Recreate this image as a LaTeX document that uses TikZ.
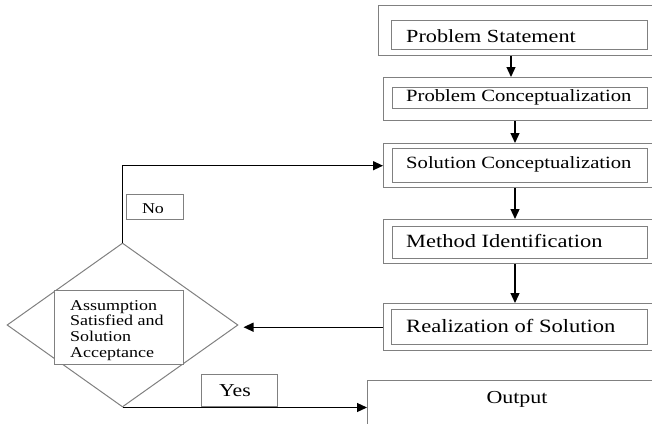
\documentclass[tikz,border=0pt]{standalone}
\usepackage{graphicx}
\usepackage{fontspec}
\newfontfamily\bodyfont{Liberation Serif}
\usetikzlibrary{shapes.geometric,arrows.meta,calc}
\definecolor{edgegray}{HTML}{808080}
% text is set a little wider than the font's natural width
\newcommand{\widetext}[1]{\scalebox{1.2}[1]{#1}}
\newcommand{\tsize}[1]{\bodyfont\fontsize{#1}{#1}\selectfont}
\tikzset{
  x=1pt, y=-1pt,
  outerbox/.style={draw=edgegray, line width=1.4pt, fill=white, inner sep=0pt, anchor=north west},
  innerbox/.style={draw=edgegray, line width=1.4pt, fill=white, inner sep=0pt, anchor=north west},
  boxtext/.style={inner sep=0pt, anchor=base west, text=black},
  flow/.style={draw=black, line width=1.3pt, -{Triangle[length=10pt,width=9pt]}},
  tagbox/.style={draw=edgegray, line width=1.2pt, fill=white, inner sep=0pt, anchor=north west},
}
\begin{document}
\begin{tikzpicture}
\useasboundingbox (0,0) rectangle (652,423);
\clip (0,0) rectangle (652,423);

% process boxes: outer frame with an inner frame holding the text
\node[outerbox, minimum width=287pt, minimum height=50pt] (o1) at (378,5) {};
\node[innerbox, minimum width=256pt, minimum height=29pt] (i1) at (391,20) {};
\node[boxtext, font=\tsize{18.5}] (t1) at (406,42) {\widetext{Problem Statement}};

\node[outerbox, minimum width=282pt, minimum height=43pt] (o2) at (383,77) {};
\node[innerbox, minimum width=255pt, minimum height=21pt] (i2) at (392,87) {};
\node[boxtext, font=\tsize{17.2}] (t2) at (406,101) {\widetext{Problem Conceptualization}};

\node[outerbox, minimum width=282pt, minimum height=44pt] (o3) at (383,143) {};
\node[innerbox, minimum width=255pt, minimum height=34pt] (i3) at (392,148) {};
\node[boxtext, font=\tsize{17.2}] (t3) at (406,168) {\widetext{Solution Conceptualization}};

\node[outerbox, minimum width=282pt, minimum height=44pt] (o4) at (383,219) {};
\node[innerbox, minimum width=255pt, minimum height=32pt] (i4) at (392,226) {};
\node[boxtext, font=\tsize{18.7}] (t4) at (406,247) {\widetext{Method Identification}};

\node[outerbox, minimum width=282pt, minimum height=47pt] (o5) at (383,303) {};
\node[innerbox, minimum width=256pt, minimum height=35pt] (i5) at (391,309) {};
\node[boxtext, font=\tsize{18.8}] (t5) at (406,332) {\widetext{Realization of Solution}};

\node[outerbox, minimum width=298pt, minimum height=52pt] (out) at (367,380) {};
\node[inner sep=0pt, anchor=base, font=\tsize{18.3}] (tout) at (517,403) {\widetext{Output}};

% decision
\node[draw=edgegray, line width=1pt, shape=diamond, inner sep=0pt,
      minimum width=231pt, minimum height=164pt] (dia) at (122.5,325) {};
\node[tagbox, minimum width=129pt, minimum height=74pt] (dbox) at (54,290) {};
\node[inner sep=0pt, anchor=north west, font=\bodyfont\fontsize{15}{15.7}\selectfont] (dtext) at (70,299)
  {\widetext{\begin{tabular}{@{}l@{}}Assumption\\Satisfied and\\Solution\\Acceptance\end{tabular}}};

% branch tags
\node[tagbox, minimum width=57pt, minimum height=25pt] (nobox) at (126,194) {};
\node[inner sep=0pt, anchor=base, font=\tsize{15}] (notext) at (153,213) {\widetext{No}};
\node[tagbox, minimum width=76pt, minimum height=32pt] (yesbox) at (201,374) {};
\node[inner sep=0pt, anchor=base, font=\tsize{18.2}] (yestext) at (235,396) {\widetext{Yes}};

% main chain
\draw[flow] (511,0 |- o1.south) -- (511,0 |- o2.north);
\draw[flow] (515,0 |- o2.south) -- (515,0 |- o3.north);
\draw[flow] (515,0 |- o3.south) -- (515,0 |- o4.north);
\draw[flow] (515,0 |- o4.south) -- (515,0 |- o5.north);

% feedback and result
\coordinate (dright) at ($(dia.east)+(5,2)$);
\draw[flow] (o5.west) -- (o5.west -| dright);
\draw[flow] (dia.north) |- (o3.west);
\draw[flow] (dia.south) -- (dia.south -| out.west);
\end{tikzpicture}
\end{document}
